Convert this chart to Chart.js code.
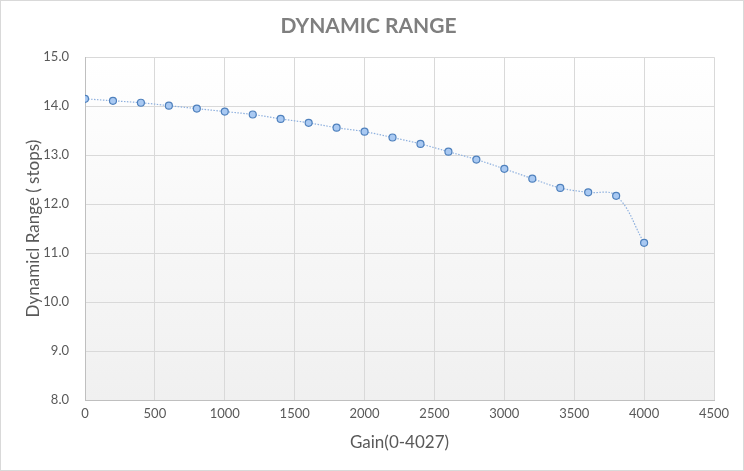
<!DOCTYPE html>
<html lang="en">
  <head>
    <meta charset="UTF-8" />
    <title>Dynamic Range</title>
    <script src="https://cdn.jsdelivr.net/npm/chart.js"></script>
    <style>
      html, body {
        margin: 0;
        padding: 0;
        background: #ffffff;
      }
      #wrapper {
        position: relative;
        width: 742px;
        height: 469px;
        border: 1px solid #d9d9d9;
      }
    </style>
  </head>
  <body>
    <div id="wrapper">
      <canvas id="rangeChart"></canvas>
    </div>

    <script>
      // Gain steps and measured dynamic range (stops)
      var gains = [0, 200, 400, 600, 800, 1000, 1200, 1400, 1600, 1800, 2000,
                   2200, 2400, 2600, 2800, 3000, 3200, 3400, 3600, 3800, 4000];
      var stops = [14.15, 14.11, 14.07, 14.01, 13.95, 13.89, 13.83, 13.74, 13.66, 13.56, 13.48,
                   13.36, 13.23, 13.07, 12.91, 12.72, 12.52, 12.33, 12.24, 12.17, 11.21];

      var points = [];
      for (var i = 0; i < gains.length; i++) {
        points.push({ x: gains[i], y: stops[i] });
      }

      // light gradient behind the plot area, like the spreadsheet chart
      var plotBackground = {
        id: "plotBackground",
        beforeDraw: function (chart) {
          var a = chart.chartArea;
          var ctx = chart.ctx;
          var g = ctx.createLinearGradient(0, a.top, 0, a.bottom);
          g.addColorStop(0, "#ffffff");
          g.addColorStop(1, "#f0f0f0");
          ctx.save();
          ctx.fillStyle = g;
          ctx.fillRect(a.left, a.top, a.right - a.left, a.bottom - a.top);
          ctx.restore();
        },
      };

      var tickFont = { family: "Lato", size: 13 };

      var ctx = document.getElementById("rangeChart").getContext("2d");
      var chart = new Chart(ctx, {
        type: "scatter",
        data: {
          datasets: [
            {
              label: "Dynamic Range",
              data: points,
              showLine: true,
              tension: 0.4,
              borderColor: "#8eb0de",
              borderWidth: 1.2,
              borderDash: [1.5, 1.5],
              pointRadius: 3.5,
              pointBackgroundColor: "#a9c9f2",
              pointBorderColor: "#4f81bd",
              pointBorderWidth: 1.2,
            },
          ],
        },
        options: {
          responsive: true,
          maintainAspectRatio: false,
          animation: false,
          layout: {
            padding: { top: 0, right: 29, bottom: 17, left: 22 },
          },
          plugins: {
            legend: { display: false },
            tooltip: { enabled: false },
            title: {
              display: true,
              text: "DYNAMIC RANGE",
              color: "#7f7f7f",
              font: { family: "Lato", size: 21, weight: "bold" },
              padding: { top: 13, bottom: 18 },
            },
          },
          scales: {
            x: {
              type: "linear",
              min: 0,
              max: 4500,
              ticks: {
                stepSize: 500,
                color: "#595959",
                font: tickFont,
                maxRotation: 0,
                padding: 6,
                callback: function (v) {
                  return String(v);
                },
              },
              grid: { color: "#d9d9d9", drawTicks: false },
              border: { color: "#bfbfbf" },
              title: {
                display: true,
                text: "Gain(0-4027)",
                color: "#595959",
                font: { family: "Lato", size: 17 },
                padding: { top: 4, bottom: 0 },
              },
              afterFit: function (scale) {
                scale.height = 53;
              },
            },
            y: {
              min: 8,
              max: 15,
              ticks: {
                stepSize: 1,
                color: "#595959",
                font: tickFont,
                padding: 16,
                callback: function (v) {
                  return v.toFixed(1);
                },
              },
              grid: { color: "#d9d9d9", drawTicks: false },
              border: { color: "#bfbfbf" },
              title: {
                display: true,
                text: "Dynamicl Range ( stops)",
                color: "#595959",
                font: { family: "Lato", size: 17 },
                padding: { top: 0, bottom: 0 },
              },
              afterFit: function (scale) {
                scale.width = 62;
              },
            },
          },
        },
        plugins: [plotBackground],
      });
    </script>
  </body>
</html>
